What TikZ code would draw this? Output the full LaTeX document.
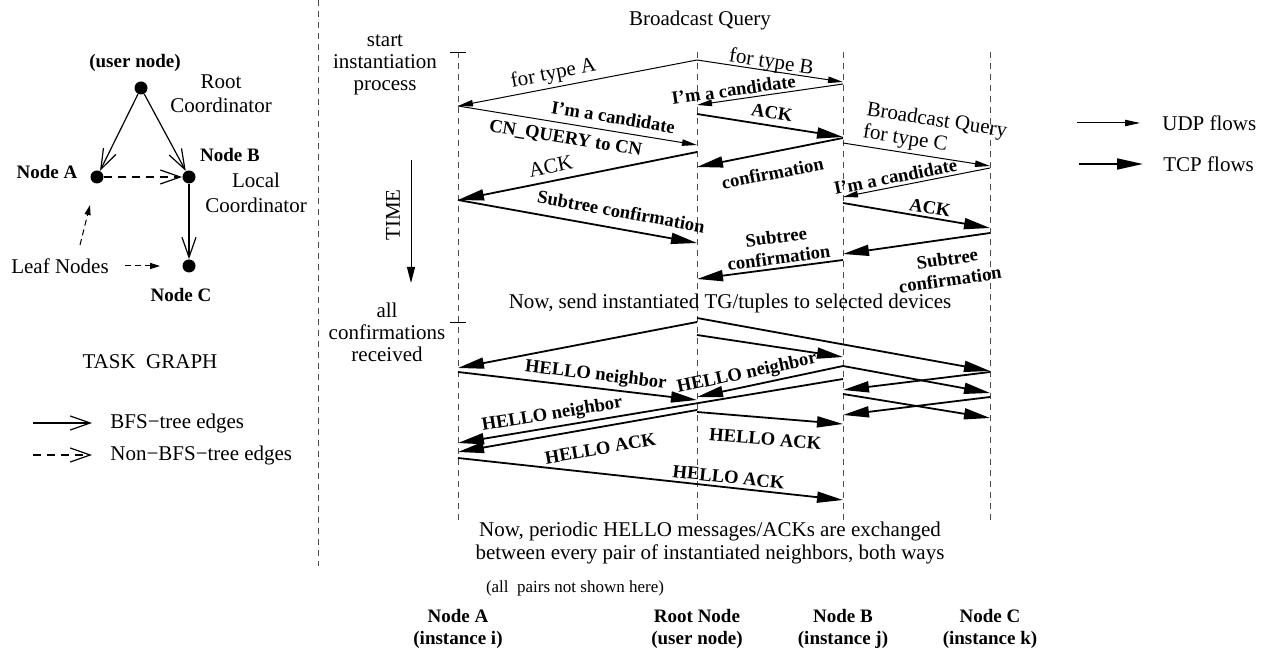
\documentclass[tikz,border=0pt]{standalone}
\usepackage{fontspec}
\setmainfont{Liberation Serif}
\usetikzlibrary{arrows.meta}

\begin{document}
\begin{tikzpicture}[x=0.5pt, y=-0.5pt]

    \tikzset{%
    lifeline/.style={
        draw=black!70,
        line width=0.4pt,
        dash pattern=on 3pt off 2.5pt
        },
    udp/.style={
        line width=0.5pt,
        -{Triangle[length=7.5pt,width=3.2pt]}
        },
    tcp/.style={
        line width=0.9pt,
        -{Triangle[length=13pt,width=5.5pt]}
        },
    txt/.style={
        font=\fontsize{10.5}{11}\selectfont,
        inner sep=0pt,
        align=center
        },
    btxt/.style={
        font=\bfseries\fontsize{9.5}{11}\selectfont,
        inner sep=0pt,
        align=center
        },
    lbl/.style={
        font=\fontsize{10.5}{11.5}\selectfont,
        sloped,
        inner sep=1.5pt
        },
    blbl/.style={
        font=\bfseries\fontsize{9.3}{10.5}\selectfont,
        sloped,
        inner sep=1.5pt,
        align=center
        },
    tg node/.style={
        circle,
        fill,
        minimum size=6.5pt,
        inner sep=0pt
        },
    bfs/.style={
        line width=0.6pt,
        -{Straight Barb[length=10pt,width=7pt]}
        },
    leaf/.style={
        line width=0.5pt,
        dash pattern=on 3pt off 2pt,
        -{Triangle[length=5pt,width=3pt]}
        },
    }

    \useasboundingbox (0,0) rectangle (1265,662);

    % Task graph
    \node [tg node] (root) at (141,88) {};
    \node [tg node] (nodeA) at (97,177) {};
    \node [tg node] (nodeB) at (189,177) {};
    \node [tg node] (nodeC) at (189,266) {};

    \node [btxt] (root-name) at (135,63) {(user node)};
    \node [txt] (root-role) at (221,94) {Root\\[1.2pt]Coordinator};
    \node [btxt] (A-name) at (47,172) {Node A};
    \node [btxt] (B-name) at (230,155) {Node B};
    \node [txt] (B-role) at (256,193) {Local\\[1.2pt]Coordinator};
    \node [btxt] (C-name) at (181,295) {Node C};
    \node [txt] (leaf) at (60,266) {Leaf Nodes};
    \coordinate (leaf-up) at (80,245);

    \draw [bfs] (root) -- (nodeA);
    \draw [bfs] (root) -- (nodeB);
    \draw [bfs] (nodeB) -- (nodeC);
    \draw [bfs, dash pattern=on 4pt off 3pt] (nodeA) -- (nodeB);
    \draw [leaf, shorten <=8pt, shorten >=11pt] (leaf) -- (nodeC);
    \draw [leaf, shorten >=11pt] (leaf-up) -- (nodeA);

    % Task graph legend
    \node [txt] (tg-title) at (150,362) {TASK\ \ GRAPH};
    \node [txt, anchor=west] (bfs-lbl) at (110,423) {BFS−tree edges};
    \node [txt, anchor=west] (nbfs-lbl) at (110,455) {Non−BFS−tree edges};
    \coordinate (bfs-start) at (33,423);
    \coordinate (nbfs-start) at (33,455);
    \draw [bfs] (bfs-start) -- ([xshift=-9pt]bfs-lbl.west);
    \draw [bfs, dash pattern=on 4pt off 3pt] (nbfs-start) -- ([xshift=-9pt]nbfs-lbl.west);

    % Separator
    \coordinate (sep-top) at (318,0);
    \coordinate (sep-bot) at (318,566);
    \draw [lifeline] (sep-top) -- (sep-bot);

    % Lifelines
    \foreach \l/\x in {A/458,R/697,B/843,C/990}
    \draw [lifeline] (\x,52) coordinate (\l-top) -- (\x,522) coordinate (\l-bot);

    % Message end points on the lifelines
    \foreach \l/\y in {R/60,A/106,B/82,B/84,R/105,R/145,R/114,B/137,R/152,A/200,
                       B/138,R/167,B/143,C/166,C/168,B/197,B/203,C/228,R/243,
                       C/233,B/254,B/260,R/279,A/322,
                       R/322,A/368,R/335,B/357,R/318,C/371,A/372,R/400,B/366,
                       R/397,B/379,A/443,R/410,A/452,R/412,B/424,A/458,B/500,
                       C/372,B/390,C/393,B/394,C/418,C/397,B/415}
    \path (\l-top) ++(0,\y-52) coordinate (\l\y);

    % Time marks
    \draw (A-top) ++(-8,0) -- ++(16,0);
    \draw (A322) ++(-8,0) -- ++(16,0);
    \node [txt] (start-lbl) at (385,65) {start\\instantiation\\process};
    \node [txt] (end-lbl) at (387,332) {all\\confirmations\\received};
    \coordinate (time-top) at (411,160);
    \coordinate (time-bot) at (411,283);
    \draw [line width=0.5pt, -{Triangle[length=8pt,width=4pt]}] (time-top) -- (time-bot);
    \node [txt, rotate=90] (time-lbl) at (393,215) {TIME};

    % Instantiation phase
    \node [txt] (bq-lbl) at (700,20) {Broadcast Query};
    \draw [udp] (R60) -- node [lbl, above, pos=0.59] {for type A} (A106);
    \draw [udp] (R60) -- node [lbl, above=-2.5pt, pos=0.5] {for type B} (B82);
    \draw [udp] (B84) -- node [blbl, above, pos=0.74] {I’m a candidate} (R105);
    \draw [udp] (A106) -- node [blbl, above=2pt, pos=0.64] {I’m a candidate}
        node [blbl, below=2pt, pos=0.46] {CN\_QUERY to CN} (R145);
    \draw [tcp] (R114) -- node [blbl, above=1.5pt, pos=0.5] {ACK} (B137);
    \draw [tcp] (R152) -- node [lbl, above=2pt, pos=0.6] {ACK} (A200);
    \draw [tcp] (B138) -- node [blbl, below=5pt, pos=0.51] {confirmation} (R167);
    \draw [udp] (B143) -- node [lbl, above, pos=0.6, align=left] {Broadcast Query\\for type C} (C166);
    \draw [udp] (C168) -- node [blbl, above, pos=0.63] {I’m a candidate} (B197);
    \draw [tcp] (B203) -- node [blbl, above, pos=0.58] {ACK} (C228);
    \draw [tcp] (A200) -- node [blbl, above=3.5pt, pos=0.67] {Subtree confirmation} (R243);
    \draw [tcp] (C233) -- node [blbl, below=4.5pt, pos=0.31] {Subtree\\confirmation} (B254);
    \draw [tcp] (B260) -- node [blbl, above, pos=0.43] {Subtree\\confirmation} (R279);

    % Deployment and HELLO phase
    \node [txt] (send-lbl) at (730,303) {Now, send instantiated TG/tuples to selected devices};
    \draw [tcp] (R322) -- (A368);
    \draw [tcp] (R335) -- (B357);
    \draw [tcp] (R318) -- (C371);
    \draw [tcp] (A372) -- node [blbl, above, pos=0.57] {HELLO neighbor} (R400);
    \draw [tcp] (B366) -- node [blbl, above, pos=0.64] {HELLO neighbor} (R397);
    \draw [tcp] (B379) -- node [blbl, above, pos=0.75] {HELLO neighbor} (A443);
    \draw [tcp] (R410) -- node [blbl, below=5.5pt, pos=0.42] {HELLO ACK} (A452);
    \draw [tcp] (R412) -- node [blbl, below=5.5pt, pos=0.48] {HELLO ACK} (B424);
    \draw [tcp] (A458) -- node [blbl, above, pos=0.70] {HELLO ACK} (B500);
    \draw [tcp] (C372) -- (B390);
    \draw [tcp] (B366) -- (C393);
    \draw [tcp] (B394) -- (C418);
    \draw [tcp] (C397) -- (B415);

    \node [txt, font=\fontsize{10.5}{11.5}\selectfont] (periodic-lbl) at (710,543)
        {Now, periodic HELLO messages/ACKs are exchanged\\between every pair of instantiated neighbors, both ways};
    \node [txt, font=\fontsize{8.5}{10}\selectfont] (pairs-lbl) at (575,588) {(all\ \ pairs not shown here)};

    % Lifeline names
    \node [btxt] (A-lbl) at (458,629) {Node A\\(instance i)};
    \node [btxt] (R-lbl) at (697,629) {Root Node\\(user node)};
    \node [btxt] (B-lbl) at (843,629) {Node B\\(instance j)};
    \node [btxt] (C-lbl) at (990,629) {Node C\\(instance k)};

    % Flow legend
    \node [txt, anchor=west] (udp-lbl) at (1162,123) {UDP flows};
    \node [txt, anchor=west] (tcp-lbl) at (1163,164) {TCP flows};
    \coordinate (udp-start) at (1077,123);
    \coordinate (tcp-start) at (1079,164);
    \draw [udp] (udp-start) -- ([xshift=-11pt]udp-lbl.west);
    \draw [tcp] (tcp-start) -- ([xshift=-10pt]tcp-lbl.west);

\end{tikzpicture}
\end{document}
